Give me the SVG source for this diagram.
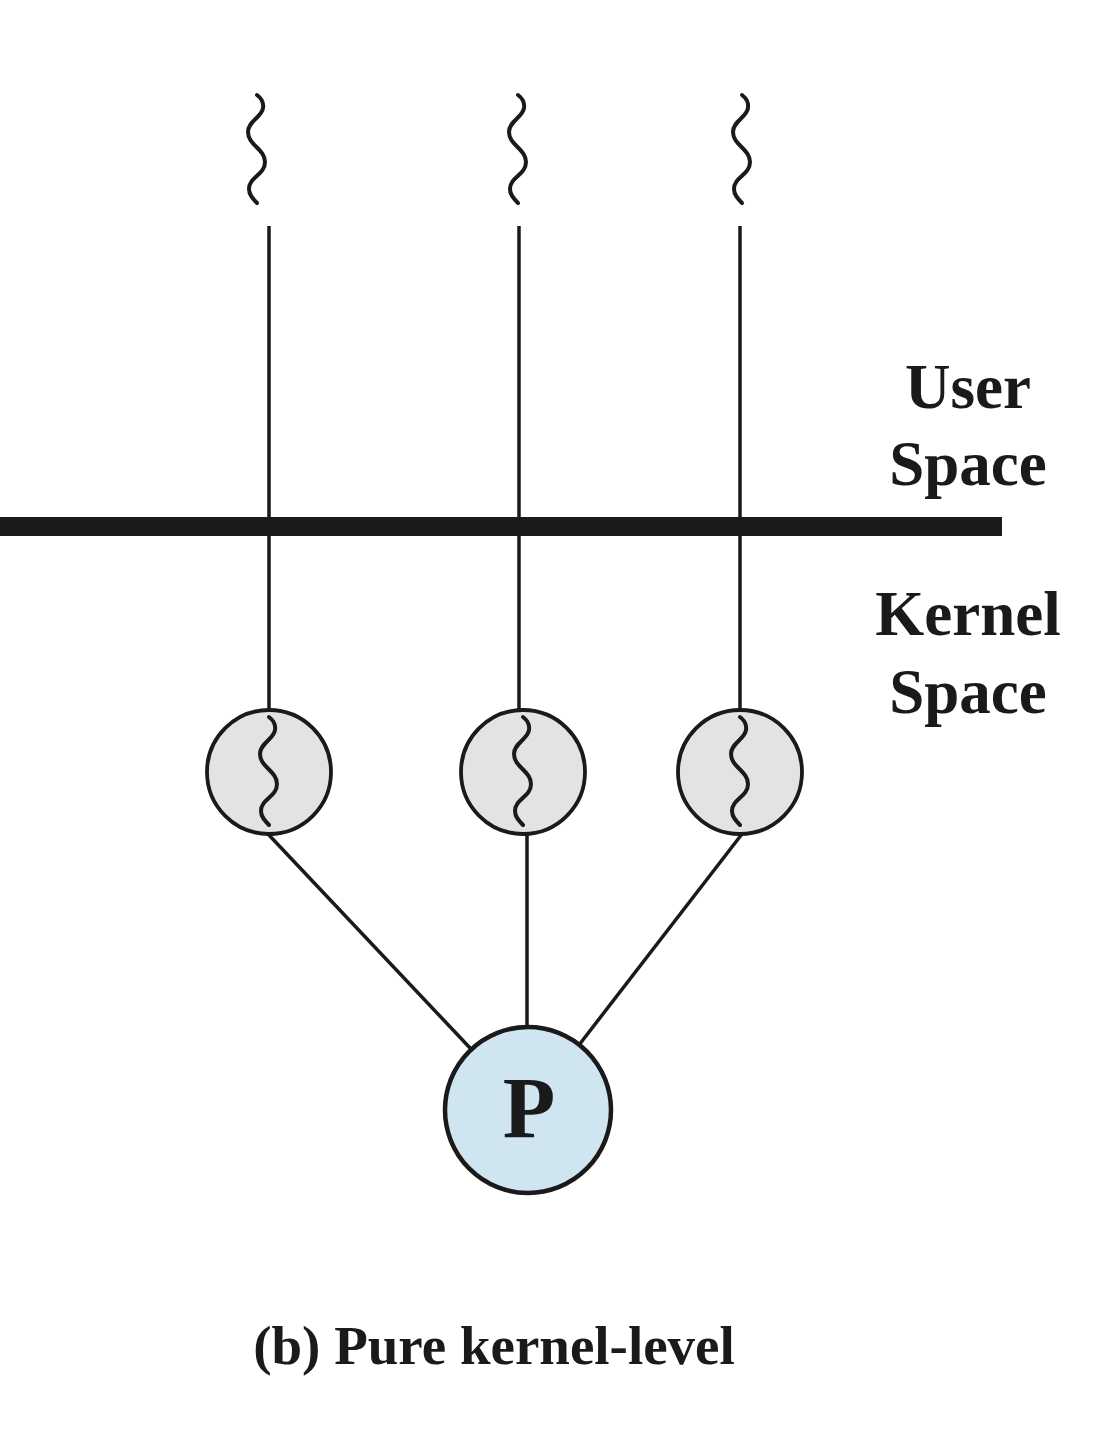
<svg xmlns="http://www.w3.org/2000/svg" xmlns:xlink="http://www.w3.org/1999/xlink" width="1104" height="1436" viewBox="0 0 1104 1436">
<style>
.ln{stroke:#1a1a1a;stroke-width:3.5;fill:none}
.sq{stroke:#1a1a1a;stroke-width:4;fill:none;stroke-linecap:round}
.th{fill:#e3e3e3;stroke:#1a1a1a;stroke-width:3.8}
.pc{fill:#cfe6f0;stroke:#1a1a1a;stroke-width:4.5}
.lbl{font-family:"Liberation Serif","Times New Roman",serif;font-weight:bold;fill:#1a1a1a;text-anchor:middle}
</style>
<defs>
<path id="squig" d="M0,0 C4,3 7,7 6,13 C5,22 -9,26 -9,37 C-9,50 8,54 8,67 C8,80 -8,82 -8,94 C-8,100 -4,104 0,108"/>
</defs>
<rect width="1104" height="1436" fill="#ffffff"/>
<g id="top-threads">
<use xlink:href="#squig" class="sq" transform="translate(257,95)"/>
<use xlink:href="#squig" class="sq" transform="translate(518,95)"/>
<use xlink:href="#squig" class="sq" transform="translate(742,95)"/>
</g>
<g id="connectors">
<line class="ln" x1="269" y1="226" x2="269" y2="710"/>
<line class="ln" x1="519" y1="226" x2="519" y2="710"/>
<line class="ln" x1="740" y1="226" x2="740" y2="710"/>
<line class="ln" x1="268" y1="834" x2="471" y2="1049"/>
<line class="ln" x1="527" y1="834" x2="527" y2="1027"/>
<line class="ln" x1="742" y1="834" x2="579" y2="1045"/>
</g>
<g id="boundary">
<rect x="0" y="517" width="1002" height="19" fill="#1a1a1a"/>
</g>
<g id="kt1">
<circle class="th" cx="269" cy="772" r="62"/>
<use xlink:href="#squig" class="sq" transform="translate(269,717)"/>
</g>
<g id="kt2">
<circle class="th" cx="523" cy="772" r="62"/>
<use xlink:href="#squig" class="sq" transform="translate(523,717)"/>
</g>
<g id="kt3">
<circle class="th" cx="740" cy="772" r="62"/>
<use xlink:href="#squig" class="sq" transform="translate(740,717)"/>
</g>
<g id="process">
<circle class="pc" cx="528" cy="1110" r="83"/>
<text class="lbl" x="529" y="1137" font-size="86">P</text>
</g>
<g id="labels">
<text class="lbl" x="968" y="408" font-size="63">User</text>
<text class="lbl" x="968" y="485" font-size="63">Space</text>
<text class="lbl" x="968" y="635" font-size="63">Kernel</text>
<text class="lbl" x="968" y="713" font-size="63">Space</text>
<text class="lbl" x="494" y="1364" font-size="55">(b) Pure kernel-level</text>
</g>
</svg>
